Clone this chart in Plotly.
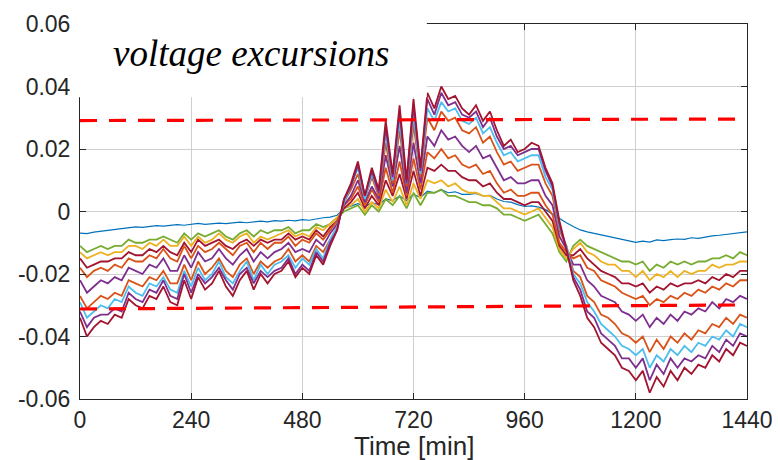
import plotly.graph_objects as go

# Time axis [min], 15-minute samples
time_min = list(range(0, 1441, 15))

# Voltage deviations in units of 1e-3 p.u. (least to most affected bus)
bus_01 = [-6.9, -7.1, -6.6, -6.3, -6.0, -5.8, -5.5, -5.2, -4.9, -5.1, -4.7, -4.5, -4.7, -4.4, -4.2, -4.4, -4.0, -3.8, -4.1, -4.0,
          -3.7, -3.9, -3.6, -3.4, -3.6, -3.3, -3.1, -3.3, -2.9, -3.1, -2.8, -3.0, -2.6, -2.8, -2.3, -2.0, -1.8, -1.2,
          1.0, 1.8, 2.5, 1.5, 2.8, 2.2, 4.0, 3.5, 5.0, 3.5, 5.5, 4.5, 6.5, 6.0, 7.0, 6.0, 6.3, 5.5, 5.5, 5.8,
          5.0, 5.2, 4.0, 3.2, 3.0, 2.2, 1.6, 1.8, 1.4, 0.6, -0.8, -2.4, -3.6, -4.8,
          -5.9, -6.5, -7.0, -7.4, -8.0, -8.3, -8.9, -9.5, -9.9, -9.5, -9.8, -9.1, -9.3, -9.0, -8.8, -8.9, -8.4, -8.6,
          -8.1, -7.8, -7.6, -7.3, -7.1, -6.6, -6.5]
bus_02 = [-11, -13, -12, -11, -12, -11, -11, -9, -10, -10, -9, -9, -8, -9, -10, -7, -9, -7, -8, -7,
          -6, -8, -9, -7, -6, -8, -6, -7, -6, -6, -5, -7, -6, -6, -4, -5, -4, -2,
          0, 1, 2, -1, 2, 0, 4, 2, 5, 1, 6, 2, 6, 6, 7, 5, 5, 4, 3, 3, 2, 2, 1, -1, -1, -2, -3, -2, -1, -4,
          -7, -13, -16, -11,
          -9, -11, -12, -13, -14, -15, -16, -16, -17, -16, -19, -17, -18, -16, -17, -16, -17, -16, -16, -15,
          -15, -14, -15, -13, -14]
bus_03 = [-13, -15, -14, -13, -14, -13, -13, -11, -11, -12, -10, -11, -9, -11, -11, -8, -11, -8, -10, -9,
          -7, -9, -10, -8, -7, -10, -8, -9, -8, -7, -6, -8, -7, -8, -5, -6, -4, -2,
          1, 2, 4, 0, 3, 1, 7, 3, 8, 2, 9, 4, 10, 9, 10, 8, 9, 7, 6, 6, 5, 5, 3, 1, 1, 0, -1, 0, 1, -2,
          -5, -12, -15, -12,
          -10, -13, -14, -16, -17, -17, -19, -19, -21, -19, -22, -20, -21, -19, -21, -19, -20, -19, -19, -17,
          -18, -17, -17, -16, -16]
bus_04 = [-15, -18, -17, -16, -16, -15, -15, -13, -14, -14, -12, -13, -11, -13, -14, -10, -13, -9, -11, -10,
          -9, -11, -12, -10, -9, -11, -9, -10, -9, -9, -7, -9, -8, -9, -6, -8, -5, -3,
          1, 3, 6, 1, 5, 2, 10, 5, 12, 4, 13, 5, 14, 13, 15, 13, 13, 11, 10, 10, 8, 9, 6, 4, 4, 3, 2, 3, 3, 0,
          -3, -11, -14, -14,
          -12, -15, -17, -19, -20, -21, -23, -23, -24, -23, -26, -24, -25, -23, -24, -23, -23, -22, -23, -21,
          -22, -20, -21, -19, -19]
bus_05 = [-18, -21, -19, -18, -19, -17, -18, -15, -16, -16, -14, -15, -12, -15, -16, -11, -15, -11, -13, -12,
          -10, -12, -14, -11, -10, -13, -10, -12, -10, -10, -8, -11, -9, -10, -7, -9, -6, -3,
          2, 4, 8, 2, 7, 3, 14, 6, 16, 5, 17, 7, 19, 17, 20, 17, 18, 15, 14, 15, 12, 13, 9, 6, 7, 5, 5, 6, 6, 2,
          -1, -10, -13, -15,
          -14, -18, -19, -22, -23, -24, -26, -27, -28, -27, -30, -28, -29, -27, -28, -26, -27, -25, -26, -24,
          -25, -23, -24, -22, -22]
bus_06 = [-22, -26, -24, -22, -23, -21, -22, -18, -19, -20, -17, -18, -15, -19, -19, -14, -18, -13, -16, -15,
          -12, -15, -17, -14, -12, -16, -13, -15, -13, -12, -10, -13, -12, -13, -9, -11, -7, -4,
          2, 5, 10, 3, 8, 4, 18, 8, 21, 6, 22, 9, 24, 21, 26, 23, 24, 21, 19, 21, 17, 18, 14, 10, 11, 9, 9, 10, 10, 5,
          2, -8, -12, -17,
          -17, -22, -24, -27, -28, -29, -32, -33, -35, -33, -37, -34, -36, -33, -35, -32, -33, -31, -32, -29,
          -31, -28, -29, -27, -28]
bus_07 = [-27, -31, -29, -27, -28, -26, -27, -22, -23, -24, -21, -22, -19, -23, -23, -17, -22, -16, -20, -18,
          -15, -19, -21, -17, -15, -20, -16, -18, -16, -15, -12, -16, -14, -16, -11, -13, -9, -5,
          3, 7, 12, 4, 11, 5, 22, 9, 26, 8, 28, 11, 30, 26, 32, 29, 30, 26, 25, 27, 22, 24, 19, 15, 16, 13, 14, 15, 15, 9,
          5, -6, -11, -19,
          -21, -27, -29, -33, -34, -36, -39, -40, -42, -40, -45, -41, -44, -40, -42, -39, -41, -38, -39, -36,
          -37, -34, -36, -33, -34]
bus_08 = [-29, -34, -32, -30, -31, -28, -29, -24, -26, -27, -23, -24, -21, -25, -26, -19, -24, -18, -22, -20,
          -16, -21, -23, -19, -16, -22, -17, -20, -17, -16, -14, -18, -15, -17, -12, -15, -9, -5,
          3, 8, 14, 4, 12, 6, 25, 10, 29, 9, 31, 12, 33, 29, 35, 32, 33, 29, 28, 30, 25, 27, 22, 18, 19, 16, 17, 18, 18, 11,
          7, -5, -11, -20,
          -23, -29, -32, -36, -38, -40, -43, -44, -46, -44, -50, -46, -48, -44, -46, -43, -45, -42, -43, -40,
          -41, -38, -40, -36, -37]
bus_09 = [-32, -37, -34, -33, -33, -31, -32, -26, -28, -29, -25, -26, -22, -27, -28, -20, -26, -20, -23, -21,
          -18, -22, -25, -20, -18, -23, -19, -21, -19, -18, -15, -20, -17, -19, -13, -16, -10, -6,
          4, 8, 15, 5, 13, 6, 27, 11, 32, 9, 34, 13, 36, 31, 38, 34, 35, 31, 30, 32, 27, 30, 24, 20, 21, 18, 19, 20, 20, 13,
          8, -4, -12, -21,
          -25, -32, -34, -39, -41, -43, -47, -47, -50, -47, -54, -49, -52, -47, -50, -47, -48, -46, -47, -43,
          -45, -41, -43, -39, -40]
bus_10 = [-34, -40, -37, -35, -36, -33, -34, -28, -30, -31, -27, -28, -24, -29, -30, -22, -28, -21, -25, -23,
          -19, -24, -27, -22, -19, -25, -20, -23, -20, -19, -16, -21, -18, -20, -14, -17, -11, -6,
          4, 9, 16, 5, 14, 7, 29, 12, 34, 10, 36, 14, 38, 33, 40, 36, 37, 33, 31, 34, 29, 32, 26, 21, 23, 19, 20, 22, 21, 14,
          9, -3, -12, -22,
          -27, -34, -37, -42, -44, -46, -50, -51, -54, -51, -58, -53, -56, -51, -54, -50, -52, -49, -50, -46,
          -48, -44, -46, -42, -43]

bus_series = [bus_01, bus_02, bus_03, bus_04, bus_05, bus_06, bus_07, bus_08, bus_09, bus_10]
bus_colors = ["#0072BD", "#77AC30", "#EDB120", "#A2142F", "#D95319",
              "#7E2F8E", "#D95319", "#4DBEEE", "#7E2F8E", "#A2142F"]

# Voltage limits (dashed red)
limit_time = [0, 1440]
upper_limit = [0.0291, 0.0296]
lower_limit = [-0.0312, -0.0299]

x_ticks = [0, 240, 480, 720, 960, 1200, 1440]
y_ticks = [-0.06, -0.04, -0.02, 0, 0.02, 0.04, 0.06]
y_tick_text = ["-0.06", "-0.04", "-0.02", "0", "0.02", "0.04", "0.06"]

for s in bus_series:
    assert len(s) == len(time_min), len(s)

fig = go.Figure()
for k, (s, c) in enumerate(zip(bus_series, bus_colors)):
    fig.add_trace(go.Scatter(
        x=time_min, y=[v / 1000 for v in s], mode="lines",
        line=dict(color=c, width=1.2 if k == 0 else 1.8),
        hoverinfo="skip", showlegend=False))

for lim in (upper_limit, lower_limit):
    fig.add_trace(go.Scatter(
        x=limit_time, y=lim, mode="lines",
        line=dict(color="#FF0000", width=3.2, dash="17px,12px"),
        hoverinfo="skip", showlegend=False))

axis_common = dict(
    showline=True, linecolor="#262626", linewidth=1, mirror="ticks",
    ticks="inside", ticklen=6, tickcolor="#262626", automargin=False,
    showgrid=True, gridcolor="#cfcfcf", gridwidth=1.4, zeroline=False,
    tickfont=dict(family="Liberation Sans, Arial, sans-serif", size=23, color="#262626"),
)

# The page body adds an 8px offset, so the figure is 8px smaller than the window
fig.update_layout(
    width=772, height=452,
    margin=dict(l=72, r=33, t=16, b=61),
    paper_bgcolor="white", plot_bgcolor="white",
    xaxis=dict(range=[0, 1440], tickvals=x_ticks, **axis_common),
    yaxis=dict(range=[-0.06, 0.06], tickvals=y_ticks, ticktext=y_tick_text,
               ticklabelstandoff=4, **axis_common),
    shapes=[dict(type="rect", xref="paper", yref="paper",
                 x0=-0.008, x1=0.52, y0=0.805, y1=1.2,
                 fillcolor="white", line=dict(width=0), layer="above")],
    annotations=[
        dict(text="voltage excursions", xref="paper", yref="paper",
             x=0.047, y=0.92, xanchor="left", yanchor="middle", showarrow=False,
             font=dict(family="Liberation Serif, Times New Roman, serif", size=37,
                       color="black", style="italic")),
        dict(text="Time [min]", xref="paper", yref="paper",
             x=0.5, y=-0.124, xanchor="center", yanchor="middle", showarrow=False,
             font=dict(family="Liberation Sans, Arial, sans-serif", size=26, color="#262626")),
    ],
)

fig.write_html("out.html")
